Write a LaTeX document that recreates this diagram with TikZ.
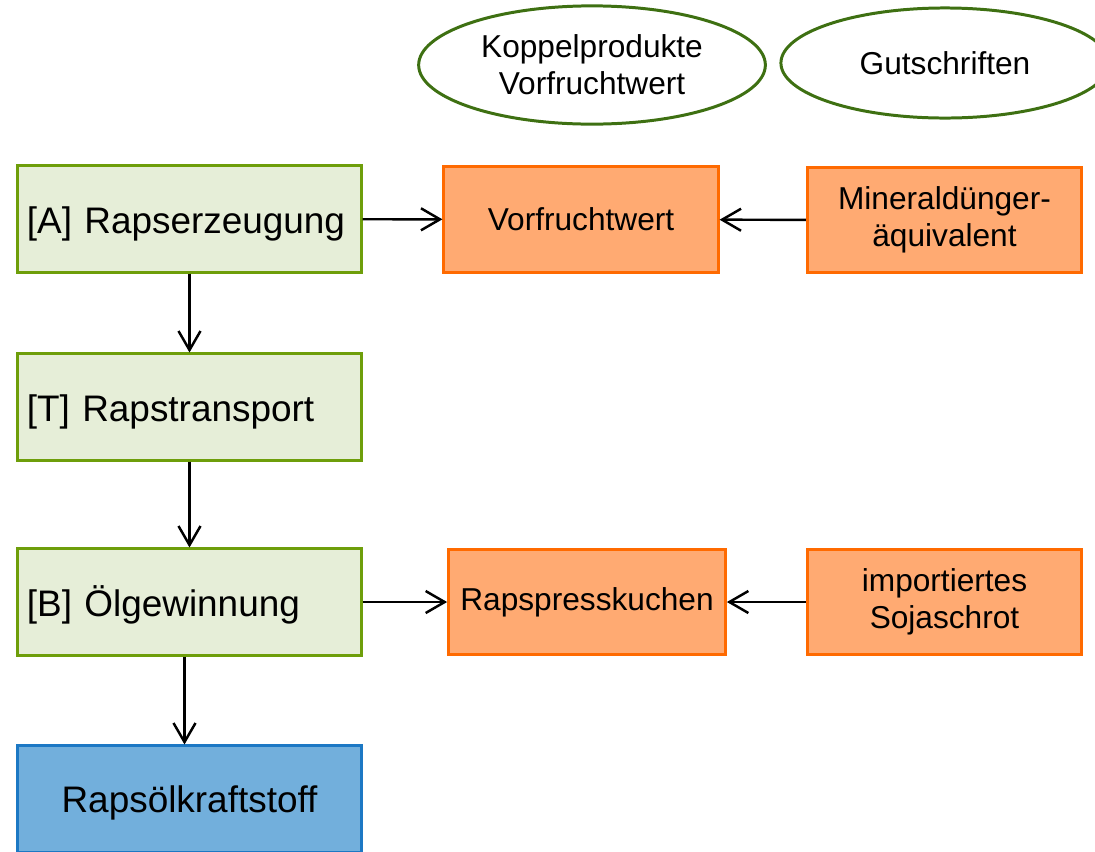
\documentclass[tikz,border=0pt]{standalone}
\usepackage{fontspec}
\setmainfont{Liberation Sans}
\usetikzlibrary{arrows.meta, shapes.geometric}
\definecolor{gfill}{HTML}{E6EED8}
\definecolor{gline}{HTML}{6E9E0A}
\definecolor{ofill}{HTML}{FFAA72}
\definecolor{oline}{HTML}{FF6A00}
\definecolor{bfill}{HTML}{72AFDC}
\definecolor{bline}{HTML}{1C78C4}
\definecolor{ecol}{HTML}{3E7012}

\begin{document}
\begin{tikzpicture}[x=0.01cm, y=-0.01cm, >={Straight Barb[length=1.9mm, width=2.2mm]},
  bigtxt/.style={font=\fontsize{10.5}{12.6}\selectfont},
  smalltxt/.style={font=\fontsize{9}{10.5}\selectfont},
  proc/.style={draw=gline, fill=gfill, line width=0.85pt, minimum width=3.43cm, minimum height=1.06cm, text width=3.25cm, text height=0.36cm, text depth=0.08cm, inner xsep=0.09cm, align=left, bigtxt},
  fuel/.style={draw=bline, fill=bfill, line width=0.85pt, minimum width=3.43cm, minimum height=1.06cm, text height=0.34cm, text depth=0.08cm, align=center, bigtxt},
  credit/.style={draw=oline, fill=ofill, line width=0.85pt, minimum width=2.74cm, minimum height=1.05cm, align=center, smalltxt},
  oval/.style={ellipse, draw=ecol, line width=0.85pt, align=center, smalltxt},
  arr/.style={->, line width=0.7pt}]
\useasboundingbox (0,0) rectangle (1095,851);
\node[oval, minimum width=3.46cm, minimum height=1.16cm] (koppel) at (592,65) {Koppelprodukte\\Vorfruchtwert};
\node[oval, minimum width=3.28cm, minimum height=1.10cm] (gut) at (945,63) {Gutschriften};
\node[proc] (rapsA) at (189.5,219) {[A] Rapserzeugung};
\node[proc] (rapsT) at (189.5,407) {[T] Rapstransport};
\node[proc] (oelB) at (189.5,602) {[B] Ölgewinnung};
\node[fuel] (rkst) at (189.5,799) {Rapsölkraftstoff};
\node[credit] (vorfr) at (581,219.5) {Vorfruchtwert};
\node[credit] (mind) at (944.5,220) {Mineraldünger-\\äquivalent};
\node[credit] (presk) at (587,602) {Rapspresskuchen};
\node[credit] (soja) at (944.5,602) {importiertes\\Sojaschrot};
\draw[arr] (rapsA) -- (vorfr);
\draw[arr] (mind) -- (vorfr);
\draw[arr] (rapsA) -- (rapsT);
\draw[arr] (rapsT) -- (oelB);
\draw[arr] ([xshift=-0.05cm]oelB.south) -- ([xshift=-0.05cm]rkst.north);
\draw[arr] (oelB) -- (presk);
\draw[arr] (soja) -- (presk);
\end{tikzpicture}
\end{document}
